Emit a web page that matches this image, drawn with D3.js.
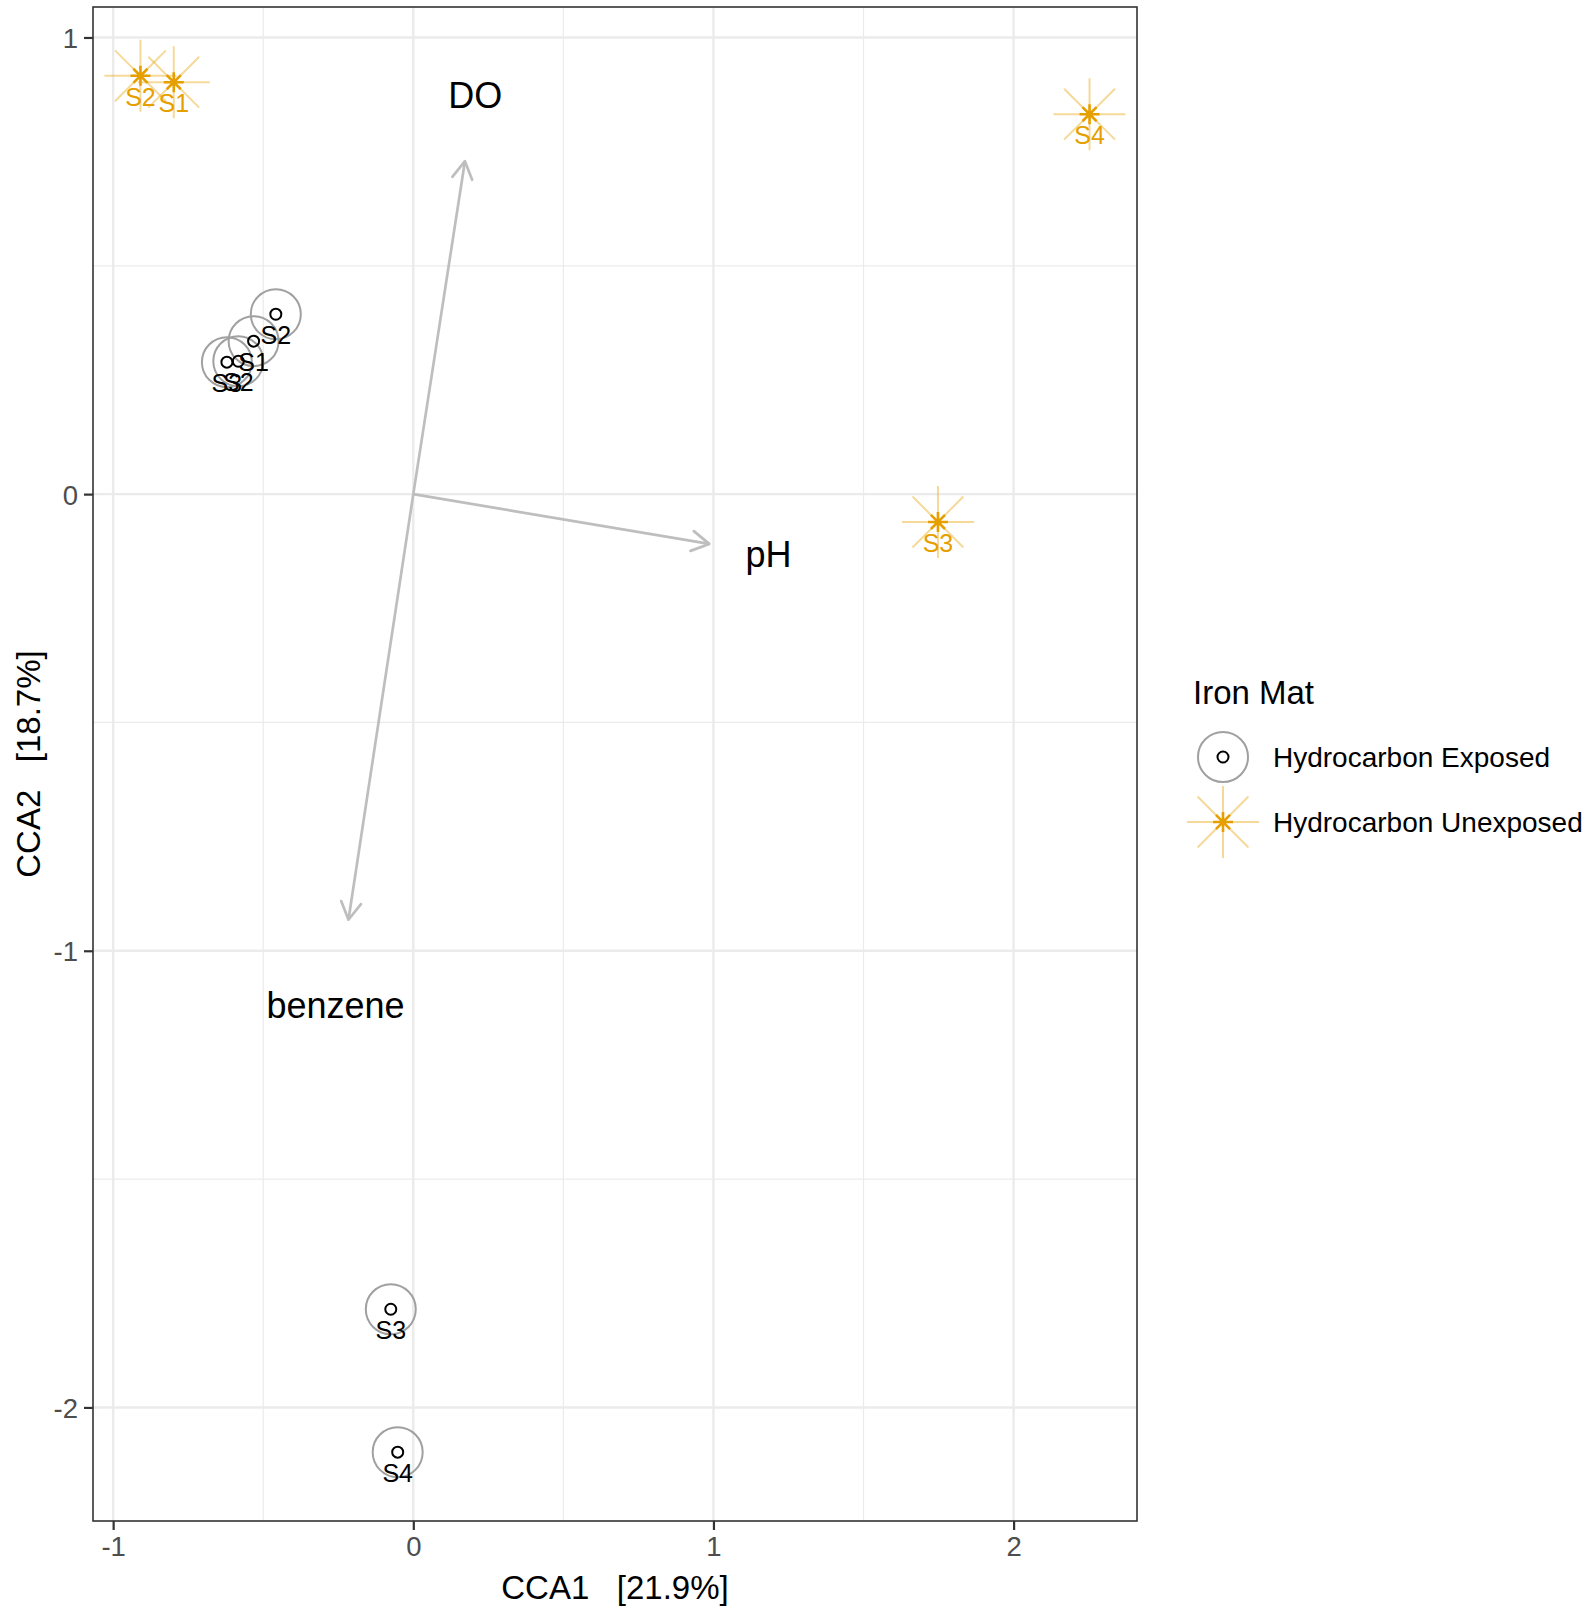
<!DOCTYPE html>
<html>
<head>
<meta charset="utf-8">
<script src="https://cdn.jsdelivr.net/npm/d3@7"></script>
<style>
  body { margin: 0; background: #fff; }
  text { font-family: "Liberation Sans", Arial, Helvetica, sans-serif; }
</style>
</head>
<body>
<svg id="chart"></svg>
<script>
// sample scores (CCA1, CCA2)
var exposedSites = ["S2", "S1", "S2", "S3", "S3", "S4"];
var exposedCCA1 = [-0.458, -0.532, -0.583, -0.621, -0.075, -0.052];
var exposedCCA2 = [0.394, 0.335, 0.291, 0.289, -1.785, -2.098];

var unexposedSites = ["S2", "S1", "S4", "S3"];
var unexposedCCA1 = [-0.909, -0.798, 2.253, 1.748];
var unexposedCCA2 = [0.916, 0.902, 0.832, -0.061];

// environmental vectors
var envNames = ["DO", "pH", "benzene"];
var envCCA1 = [0.172, 0.986, -0.216];
var envCCA2 = [0.729, -0.109, -0.932];

var xTicks = [-1, 0, 1, 2];
var yTicks = [1, 0, -1, -2];
var xMinor = [-0.5, 0.5, 1.5];
var yMinor = [0.5, -0.5, -1.5];

var legendLabels = ["Hydrocarbon Exposed", "Hydrocarbon Unexposed"];

var orange = "#E69F00";

function drawChart() {
    var svgWidth = 1593, svgHeight = 1612;
    var margin = { top: 7, right: 456, bottom: 91, left: 93 };
    var width = svgWidth - margin.left - margin.right;
    var height = svgHeight - margin.top - margin.bottom;

    var svg = d3.select("#chart")
        .attr("width", svgWidth)
        .attr("height", svgHeight);

    var exposed = exposedSites.map(function(s, i) {
        return { site: s, x: exposedCCA1[i], y: exposedCCA2[i] };
    });
    var unexposed = unexposedSites.map(function(s, i) {
        return { site: s, x: unexposedCCA1[i], y: unexposedCCA2[i] };
    });
    var env = envNames.map(function(n, i) {
        return { name: n, x: envCCA1[i], y: envCCA2[i] };
    });

    // ggplot style 5% expansion on the point extents
    var all = exposed.concat(unexposed);
    var xe = d3.extent(all, function(d) { return d.x; });
    var ye = d3.extent(all, function(d) { return d.y; });
    var xp = (xe[1] - xe[0]) * 0.05, yp = (ye[1] - ye[0]) * 0.05;

    var x = d3.scaleLinear()
        .domain([xe[0] - xp, xe[1] + xp])
        .range([0, width]);
    var y = d3.scaleLinear()
        .domain([ye[0] - yp, ye[1] + yp])
        .range([height, 0]);

    var g = svg.append("g")
        .attr("transform", "translate(" + margin.left + "," + margin.top + ")");

    // grid
    g.selectAll(".xminor").data(xMinor).enter().append("line")
        .attr("x1", x).attr("x2", x).attr("y1", 0).attr("y2", height)
        .attr("stroke", "#EBEBEB").attr("stroke-width", 1.2);
    g.selectAll(".yminor").data(yMinor).enter().append("line")
        .attr("y1", y).attr("y2", y).attr("x1", 0).attr("x2", width)
        .attr("stroke", "#EBEBEB").attr("stroke-width", 1.2);
    g.selectAll(".xmajor").data(xTicks).enter().append("line")
        .attr("x1", x).attr("x2", x).attr("y1", 0).attr("y2", height)
        .attr("stroke", "#EBEBEB").attr("stroke-width", 2.4);
    g.selectAll(".ymajor").data(yTicks).enter().append("line")
        .attr("y1", y).attr("y2", y).attr("x1", 0).attr("x2", width)
        .attr("stroke", "#EBEBEB").attr("stroke-width", 2.4);

    // axes (plain hyphen for negatives, like R)
    var fmt = function(d) { return String(d); };
    var xAxis = g.append("g")
        .attr("transform", "translate(0," + height + ")")
        .call(d3.axisBottom(x).tickValues(xTicks).tickSize(9).tickPadding(6).tickFormat(fmt));
    var yAxis = g.append("g")
        .call(d3.axisLeft(y).tickValues(yTicks).tickSize(9).tickPadding(6).tickFormat(fmt));
    [xAxis, yAxis].forEach(function(a) {
        a.select(".domain").remove();
        a.selectAll(".tick line").attr("stroke", "#333333").attr("stroke-width", 2.2);
        a.selectAll(".tick text")
            .attr("fill", "#4D4D4D")
            .attr("font-size", "27.5px")
            .style("font-family", "'Liberation Sans', Arial, sans-serif");
    });
    yAxis.selectAll(".tick text").attr("dy", "0.36em");

    // env arrows
    var arrows = g.append("g");
    env.forEach(function(d) {
        var x0 = x(0), y0 = y(0), x1 = x(d.x), y1 = y(d.y);
        var ang = Math.atan2(y1 - y0, x1 - x0);
        var len = 20, spread = Math.PI / 6;
        arrows.append("line")
            .attr("x1", x0).attr("y1", y0).attr("x2", x1).attr("y2", y1)
            .attr("stroke", "#BEBEBE").attr("stroke-width", 2.7);
        arrows.append("path")
            .attr("d", "M" + (x1 - len * Math.cos(ang - spread)) + "," + (y1 - len * Math.sin(ang - spread)) +
                "L" + x1 + "," + y1 +
                "L" + (x1 - len * Math.cos(ang + spread)) + "," + (y1 - len * Math.sin(ang + spread)))
            .attr("fill", "none")
            .attr("stroke", "#BEBEBE").attr("stroke-width", 2.7)
            .attr("stroke-linecap", "round").attr("stroke-linejoin", "round");
        arrows.append("text")
            .attr("x", x(d.x * 1.2)).attr("y", y(d.y * 1.2))
            .attr("dy", "0.36em")
            .attr("text-anchor", "middle")
            .attr("font-size", "36px")
            .attr("fill", "#000")
            .text(d.name);
    });

    // exposed: big grey ring + small black circle
    g.selectAll(".ring").data(exposed).enter().append("circle")
        .attr("cx", function(d) { return x(d.x); })
        .attr("cy", function(d) { return y(d.y); })
        .attr("r", 25)
        .attr("fill", "none")
        .attr("stroke", "#A0A0A0").attr("stroke-width", 2);
    g.selectAll(".dot").data(exposed).enter().append("circle")
        .attr("cx", function(d) { return x(d.x); })
        .attr("cy", function(d) { return y(d.y); })
        .attr("r", 5.5)
        .attr("fill", "none")
        .attr("stroke", "#000").attr("stroke-width", 2);

    // unexposed: big faint star + small star
    function star(sel, r, color, opacity, sw) {
        var p = "";
        for (var k = 0; k < 4; k++) {
            var a = k * Math.PI / 4;
            p += "M" + (-r * Math.cos(a)) + "," + (-r * Math.sin(a)) + "L" + (r * Math.cos(a)) + "," + (r * Math.sin(a));
        }
        sel.append("path")
            .attr("d", p)
            .attr("stroke", color).attr("stroke-opacity", opacity)
            .attr("stroke-width", sw).attr("fill", "none");
    }
    unexposed.forEach(function(d) {
        var s = g.append("g").attr("transform", "translate(" + x(d.x) + "," + y(d.y) + ")");
        star(s, 36, orange, 0.4, 2);
        star(s, 10, orange, 1, 2.6);
    });

    // site labels
    g.selectAll(".elab").data(exposed).enter().append("text")
        .attr("x", function(d) { return x(d.x); })
        .attr("y", function(d) { return y(d.y) + 21; })
        .attr("dy", "0.36em")
        .attr("text-anchor", "middle")
        .attr("font-size", "25px")
        .attr("fill", "#000")
        .text(function(d) { return d.site; });
    g.selectAll(".ulab").data(unexposed).enter().append("text")
        .attr("x", function(d) { return x(d.x); })
        .attr("y", function(d) { return y(d.y) + 21; })
        .attr("dy", "0.36em")
        .attr("text-anchor", "middle")
        .attr("font-size", "25px")
        .attr("fill", orange)
        .text(function(d) { return d.site; });

    // panel border
    g.append("rect")
        .attr("width", width).attr("height", height)
        .attr("fill", "none")
        .attr("stroke", "#333333").attr("stroke-width", 1.6);

    // axis titles
    svg.append("text")
        .attr("x", margin.left + width / 2)
        .attr("y", 1599)
        .attr("text-anchor", "middle")
        .attr("font-size", "33px")
        .style("white-space", "pre")
        .text("CCA1   [21.9%]");
    svg.append("text")
        .attr("transform", "translate(40," + (margin.top + height / 2) + ") rotate(-90)")
        .attr("text-anchor", "middle")
        .attr("font-size", "33px")
        .style("white-space", "pre")
        .text("CCA2   [18.7%]");

    // legend
    var lg = svg.append("g");
    lg.append("text")
        .attr("x", 1193).attr("y", 704)
        .attr("font-size", "33px")
        .text("Iron Mat");
    var keyY = [757, 822];
    var k1 = lg.append("g").attr("transform", "translate(1223," + keyY[0] + ")");
    k1.append("circle").attr("r", 25).attr("fill", "none").attr("stroke", "#A0A0A0").attr("stroke-width", 2);
    k1.append("circle").attr("r", 5.5).attr("fill", "none").attr("stroke", "#000").attr("stroke-width", 2);
    var k2 = lg.append("g").attr("transform", "translate(1223," + keyY[1] + ")");
    star(k2, 36, orange, 0.4, 2);
    star(k2, 10, orange, 1, 2.6);
    legendLabels.forEach(function(t, i) {
        lg.append("text")
            .attr("x", 1273).attr("y", keyY[i])
            .attr("dy", "0.36em")
            .attr("font-size", "28px")
            .text(t);
    });
}

drawChart();
</script>
</body>
</html>
